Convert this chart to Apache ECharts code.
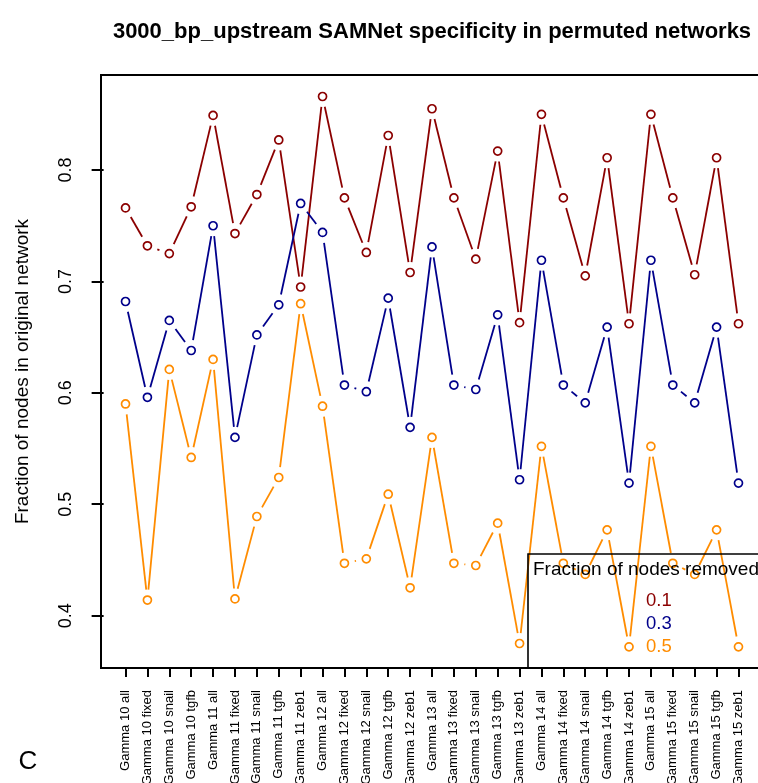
<!DOCTYPE html>
<html>
<head>
<meta charset="utf-8" />
<script src="https://cdn.jsdelivr.net/npm/echarts@6/dist/echarts.min.js"></script>
<style>
  html, body { margin: 0; padding: 0; background: #fff; }
  #chart { width: 758px; height: 783px; }
</style>
</head>
<body>
<div id="chart"></div>
<script>
const categories = [
  "Gamma 10 all", "Gamma 10 fixed", "Gamma 10 snail", "Gamma 10 tgfb",
  "Gamma 11 all", "Gamma 11 fixed", "Gamma 11 snail", "Gamma 11 tgfb", "Gamma 11 zeb1",
  "Gamma 12 all", "Gamma 12 fixed", "Gamma 12 snail", "Gamma 12 tgfb", "Gamma 12 zeb1",
  "Gamma 13 all", "Gamma 13 fixed", "Gamma 13 snail", "Gamma 13 tgfb", "Gamma 13 zeb1",
  "Gamma 14 all", "Gamma 14 fixed", "Gamma 14 snail", "Gamma 14 tgfb", "Gamma 14 zeb1",
  "Gamma 15 all", "Gamma 15 fixed", "Gamma 15 snail", "Gamma 15 tgfb", "Gamma 15 zeb1"
];
// fraction of nodes removed = 0.1
const removed01 = [
  0.766, 0.732, 0.725, 0.767,
  0.849, 0.743, 0.778, 0.827, 0.695,
  0.866, 0.775, 0.726, 0.831, 0.708,
  0.855, 0.775, 0.720, 0.817, 0.663,
  0.850, 0.775, 0.705, 0.811, 0.662,
  0.850, 0.775, 0.706, 0.811, 0.662
];
// fraction of nodes removed = 0.3
const removed03 = [
  0.682, 0.596, 0.665, 0.638,
  0.750, 0.560, 0.652, 0.679, 0.770,
  0.744, 0.607, 0.601, 0.685, 0.569,
  0.731, 0.607, 0.603, 0.670, 0.522,
  0.719, 0.607, 0.591, 0.659, 0.519,
  0.719, 0.607, 0.591, 0.659, 0.519
];
// fraction of nodes removed = 0.5
const removed05 = [
  0.590, 0.414, 0.621, 0.542,
  0.630, 0.415, 0.489, 0.524, 0.680,
  0.588, 0.447, 0.451, 0.509, 0.425,
  0.560, 0.447, 0.445, 0.483, 0.375,
  0.552, 0.447, 0.437, 0.477, 0.372,
  0.552, 0.447, 0.437, 0.477, 0.372
];
const yTicks = [0.4, 0.5, 0.6, 0.7, 0.8];
const legendLabels = ["0.1", "0.3", "0.5"];
const colors = ["#8B0000", "#00008B", "#FF8C00"];

const xTicks = categories.map((c, i) => i + 1);
const FONT = "Liberation Sans, Arial, sans-serif";

// lines drawn like R type="b": segments stop short of the circles
const gapLine = function (values, color) {
  const data = values.slice(0, -1).map((v, i) => [i + 1, v, i + 2, values[i + 1]]);
  return {
    type: "custom",
    data,
    encode: { x: [0, 2], y: [1, 3] },
    silent: true,
    renderItem(params, api) {
      const p1 = api.coord([api.value(0), api.value(1)]);
      const p2 = api.coord([api.value(2), api.value(3)]);
      const dx = p2[0] - p1[0];
      const dy = p2[1] - p1[1];
      const len = Math.sqrt(dx * dx + dy * dy);
      const gap = 10.5;
      if (len <= gap * 2) return null;
      const ux = dx / len;
      const uy = dy / len;
      return {
        type: "line",
        shape: {
          x1: p1[0] + ux * gap,
          y1: p1[1] + uy * gap,
          x2: p2[0] - ux * gap,
          y2: p2[1] - uy * gap
        },
        style: { stroke: color, lineWidth: 1.8 }
      };
    }
  };
};
const points = function (values, color) {
  return {
    type: "scatter",
    data: values.map((v, i) => [i + 1, v]),
    symbol: "circle",
    symbolSize: 8,
    itemStyle: {
      color: "rgba(0,0,0,0)",
      borderColor: color,
      borderWidth: 1.7,
      opacity: 1
    }
  };
};

const allSeries = [removed01, removed03, removed05];
const series = [];
allSeries.forEach((vals, k) => {
  series.push(gapLine(vals, colors[k]));
  series.push(points(vals, colors[k]));
});

const chart = echarts.init(document.getElementById("chart"), null, { renderer: "canvas" });
const option = {
  animation: false,
  backgroundColor: "#fff",
  title: {
    text: "3000_bp_upstream SAMNet specificity in permuted networks",
    left: 427,
    top: 16,
    textAlign: "center",
    textStyle: {
      fontFamily: FONT,
      fontWeight: "bold",
      fontSize: 22,
      color: "#000"
    }
  },
  grid: {
    left: 101,
    top: 75,
    width: 662,
    height: 593,
    outerBoundsMode: "none",
    containLabel: false,
    show: true,
    borderColor: "#000",
    borderWidth: 2,
    backgroundColor: "rgba(0,0,0,0)"
  },
  xAxis: {
    type: "value",
    min: -0.12,
    max: 30.12,
    axisLine: { show: false },
    splitLine: { show: false },
    axisTick: {
      show: true,
      customValues: xTicks,
      length: 9,
      lineStyle: { color: "#000", width: 2 }
    },
    axisLabel: {
      customValues: xTicks,
      rotate: 90,
      margin: 22,
      fontFamily: FONT,
      fontSize: 13,
      color: "#000",
      formatter: (v) => categories[Math.round(v) - 1]
    }
  },
  yAxis: {
    type: "value",
    min: 0.353,
    max: 0.8853,
    name: "Fraction of nodes in original network",
    nameLocation: "middle",
    nameGap: 69,
    nameTextStyle: { fontFamily: FONT, fontSize: 19, color: "#000" },
    axisLine: { show: false },
    splitLine: { show: false },
    axisTick: {
      show: true,
      customValues: yTicks,
      length: 12,
      lineStyle: { color: "#000", width: 2 }
    },
    axisLabel: {
      customValues: yTicks,
      rotate: 90,
      margin: 26,
      fontFamily: FONT,
      fontSize: 18,
      color: "#000",
      formatter: (v) => v.toFixed(1)
    }
  },
  graphic: [
    {
      type: "rect",
      shape: { x: 528, y: 554, width: 300, height: 114 },
      style: { fill: "none", stroke: "#000", lineWidth: 1.6 },
      z: 100
    },
    {
      type: "text",
      x: 533,
      y: 570,
      style: {
        text: "Fraction of nodes removed",
        font: "19px " + FONT,
        fill: "#000",
        verticalAlign: "middle"
      },
      z: 100
    },
    ...legendLabels.map((t, i) => ({
      type: "text",
      x: 646,
      y: 601 + i * 23,
      style: {
        text: t,
        font: "18.5px " + FONT,
        fill: colors[i],
        verticalAlign: "middle"
      },
      z: 100
    })),
    {
      type: "text",
      x: 28,
      y: 762,
      style: {
        text: "C",
        font: "26px " + FONT,
        fill: "#000",
        align: "center",
        verticalAlign: "middle"
      }
    }
  ],
  series
};
chart.setOption(option);
</script>
</body>
</html>
